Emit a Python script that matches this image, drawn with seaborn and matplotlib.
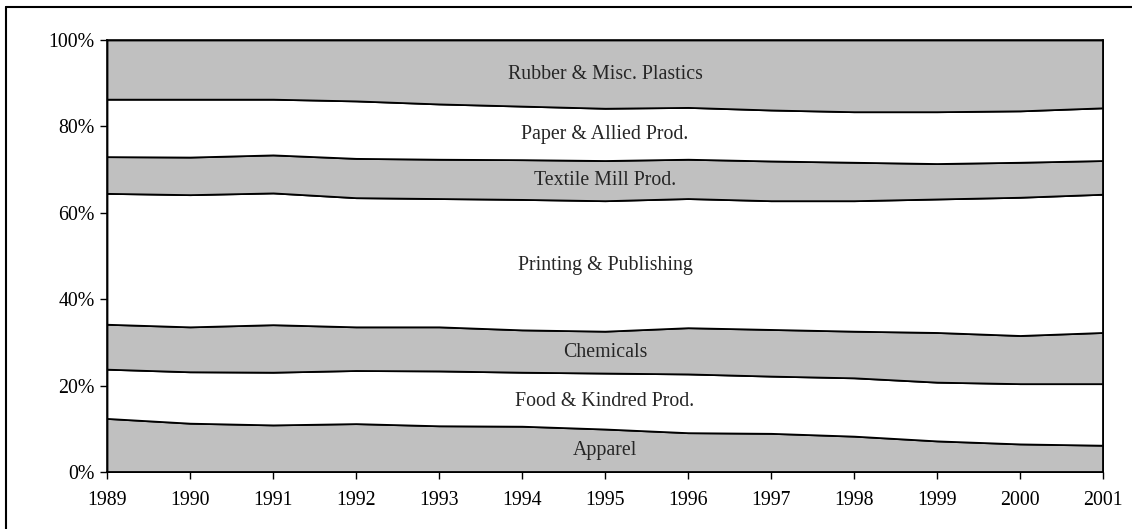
import matplotlib
matplotlib.use("Agg")
import matplotlib.pyplot as plt
import matplotlib.lines as mlines
import seaborn as sns
import numpy as np

years = list(range(1989, 2002))

# shares (%) of each industry, bottom to top
apparel = [12.4, 11.3, 10.9, 11.2, 10.7, 10.6, 9.95, 9.1, 8.95, 8.3, 7.2, 6.5, 6.2]
food = [11.4, 11.9, 12.2, 12.3, 12.7, 12.5, 12.95, 13.6, 13.25, 13.5, 13.6, 13.95, 14.25]
chemicals = [10.4, 10.4, 11.0, 10.1, 10.2, 9.8, 9.7, 10.7, 10.8, 10.8, 11.5, 11.15, 11.85]
printing = [30.3, 30.6, 30.5, 29.9, 29.7, 30.2, 30.2, 29.9, 29.8, 30.2, 30.9, 32.0, 32.0]
textile = [8.5, 8.7, 8.8, 9.1, 9.1, 9.2, 9.3, 9.1, 9.2, 8.9, 8.2, 8.1, 7.8]
paper = [13.3, 13.4, 12.9, 13.3, 12.8, 12.4, 12.1, 12.0, 11.8, 11.7, 12.0, 11.9, 12.2]
rubber = [13.7, 13.7, 13.7, 14.1, 14.8, 15.3, 15.8, 15.6, 16.2, 16.6, 16.6, 16.4, 15.7]

labels = ["Apparel", "Food & Kindred Prod.", "Chemicals", "Printing & Publishing",
          "Textile Mill Prod.", "Paper & Allied Prod.", "Rubber & Misc. Plastics"]
series = [apparel, food, chemicals, printing, textile, paper, rubber]
fills = ["#c0c0c0", "#ffffff"] * 3 + ["#c0c0c0"]

sns.set_theme(style="white")
plt.rcParams["font.family"] = ["Liberation Serif", "DejaVu Serif"]

fig = plt.figure(figsize=(11.32, 5.29), dpi=100)
ax = fig.add_axes([107 / 1132, 1 - 472 / 529, (1103 - 107) / 1132, (472 - 40) / 529])

data = np.array(series, dtype=float)
data = data / data.sum(axis=0) * 100
ax.stackplot(years, data, colors=fills, edgecolor="black", linewidth=1.3)

# band labels centred in each band at 1995
tops = np.cumsum(data, axis=0)
i95 = years.index(1995)
for k, lab in enumerate(labels):
    lo = tops[k - 1, i95] if k > 0 else 0
    hi = tops[k, i95]
    ax.text(1995, (lo + hi) / 2, lab, ha="center", va="center", fontsize=14.3)

ax.set_xlim(1989, 2001)
ax.set_ylim(0, 100)
ax.set_xticks(years)
ax.set_xticklabels([str(y) for y in years])
ax.set_yticks([0, 20, 40, 60, 80, 100])
ax.set_yticklabels(["0%", "20%", "40%", "60%", "80%", "100%"])
ax.tick_params(axis="both", which="both", direction="out", length=5, width=1,
               color="black", labelsize=14.3, labelcolor="black", bottom=True, left=True)
ax.tick_params(axis="x", pad=9)
ax.tick_params(axis="y", pad=4)
for s in ax.spines.values():
    s.set_color("black")
    s.set_linewidth(1.2)
ax.grid(False)

# outer frame (top and left edges visible)
fig.add_artist(mlines.Line2D([6 / 1132, 1.0], [1 - 7 / 529, 1 - 7 / 529], color="black", lw=1.5))
fig.add_artist(mlines.Line2D([6 / 1132, 6 / 1132], [0, 1 - 7 / 529], color="black", lw=1.5))

fig.savefig("out.png", dpi=100, facecolor="white")
